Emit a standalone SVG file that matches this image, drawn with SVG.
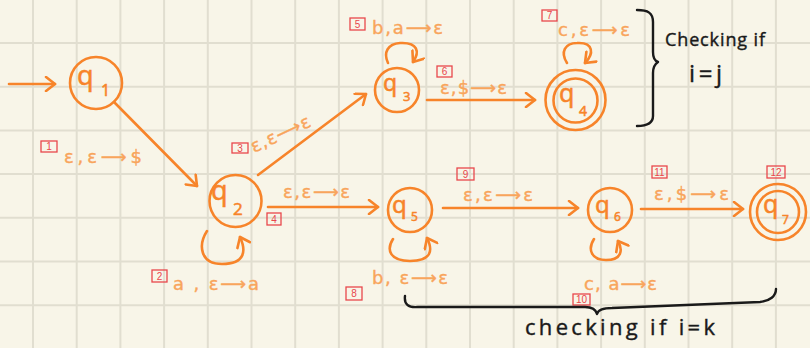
<svg xmlns="http://www.w3.org/2000/svg" width="810" height="348" viewBox="0 0 810 348">
  <defs>
    <style>
      .grid { stroke: #e1ded0; stroke-width: 2; fill: none; }
      .state { fill: none; stroke: #f7842a; stroke-width: 2.6; }
      .edge { fill: none; stroke: #f7842a; stroke-width: 2.6; stroke-linecap: round; }
      .qname { font-family: "Noto Sans", "DejaVu Sans", sans-serif; fill: #f7842a; stroke: #f7842a; stroke-width: 0.5; }
      .lbl { font-family: "DejaVu Sans", "Noto Sans", sans-serif; font-size: 18px; fill: #f8a55c; stroke: #f8a55c; stroke-width: 0.4; }
      .tag rect { fill: none; stroke: #e8474c; stroke-width: 1.3; }
      .tag text { font-family: "Liberation Sans", sans-serif; font-size: 10px; fill: #e8474c; text-anchor: middle; }
      .brace { fill: none; stroke: #1a1a1a; stroke-width: 2.4; stroke-linecap: round; stroke-linejoin: round; }
      .note { font-family: "Open Sans", "Noto Sans", sans-serif; fill: #1a1a1a; stroke: #1a1a1a; stroke-width: 0.4; }
    </style>
    <marker id="head" viewBox="-12 -8 14 16" markerWidth="14" markerHeight="16" refX="0" refY="0" orient="auto" markerUnits="userSpaceOnUse">
      <path d="M-9,-7 L0,0 L-9,7" fill="none" stroke="#f7842a" stroke-width="2.6" stroke-linecap="round" stroke-linejoin="round"/>
    </marker>
  </defs>

  <!-- paper -->
  <rect width="810" height="348" fill="#f8f5e8"/>
  <path class="grid" d="M33,0V348 M76.7,0V348 M120.4,0V348 M164.1,0V348 M207.8,0V348 M251.5,0V348 M295.2,0V348 M338.9,0V348 M382.6,0V348 M426.3,0V348 M470,0V348 M513.7,0V348 M557.4,0V348 M601.1,0V348 M644.8,0V348 M688.5,0V348 M732.2,0V348 M775.9,0V348 M0,43H810 M0,86.7H810 M0,130.4H810 M0,174.1H810 M0,217.8H810 M0,261.5H810 M0,305.2H810"/>

  <!-- transitions -->
  <g id="connectors">
    <path class="edge" d="M9,84 L55,84" marker-end="url(#head)"/>
    <path class="edge" d="M114,102 L197,186" marker-end="url(#head)"/>
    <path class="edge" d="M258,175 L366,94" marker-end="url(#head)"/>
    <path class="edge" d="M268,207 L378,207" marker-end="url(#head)"/>
    <path class="edge" d="M427,100 L535,100" marker-end="url(#head)"/>
    <path class="edge" d="M443,208 L578,208" marker-end="url(#head)"/>
    <path class="edge" d="M641,209 L743,209" marker-end="url(#head)"/>
    <!-- self loops -->
    <path class="edge" d="M207,231 C198,245 200,264 222,264 C246,264 246,250 240,237" marker-end="url(#head)"/>
    <path class="edge" d="M388,63 C383,52 388,44 400,43 C418,42 420,52 413,62" marker-end="url(#head)"/>
    <path class="edge" d="M567,63 C560,52 565,43 577,43 C594,42 594,54 585,63" marker-end="url(#head)"/>
    <path class="edge" d="M393,239 C386,250 390,261 410,261 C432,261 433,250 427,238" marker-end="url(#head)"/>
    <path class="edge" d="M594,239 C587,250 592,260 606,260 C622,260 623,250 618,241" marker-end="url(#head)"/>
  </g>

  <!-- transition labels -->
  <g id="labels">
    <g class="tag"><rect x="41" y="141" width="16" height="11"/><text x="49" y="150">1</text></g>
    <text class="lbl" x="64" y="163" textLength="78">ε,ε⟶$</text>

    <g class="tag"><rect x="152" y="270" width="15" height="12"/><text x="159.5" y="279.5">2</text></g>
    <text class="lbl" x="173" y="290" textLength="86">a , ε⟶a</text>

    <g class="tag"><rect x="232" y="143" width="16" height="10"/><text x="240" y="151.5">3</text></g>
    <text class="lbl" x="254" y="153" textLength="64" transform="rotate(-25 254 153)">ε,ε⟶ε</text>

    <g class="tag"><rect x="267" y="213" width="14" height="12"/><text x="274" y="222.5">4</text></g>
    <text class="lbl" x="283" y="198" textLength="67">ε,ε⟶ε</text>

    <g class="tag"><rect x="350" y="18" width="15" height="12"/><text x="357.5" y="27.5">5</text></g>
    <text class="lbl" x="372" y="34" textLength="71">b,a⟶ε</text>

    <g class="tag"><rect x="437" y="66" width="15" height="11"/><text x="444.5" y="75">6</text></g>
    <text class="lbl" x="440" y="94" textLength="67">ε,$⟶ε</text>

    <g class="tag"><rect x="542" y="10" width="15" height="11"/><text x="549.5" y="19">7</text></g>
    <text class="lbl" x="558" y="36" textLength="72">c,ε⟶ε</text>

    <g class="tag"><rect x="346" y="287" width="16" height="13"/><text x="354" y="297">8</text></g>
    <text class="lbl" x="372" y="284" textLength="76">b, ε⟶ε</text>

    <g class="tag"><rect x="457" y="168" width="17" height="12"/><text x="465.5" y="177.5">9</text></g>
    <text class="lbl" x="463" y="201" textLength="70">ε,ε⟶ε</text>

    <g class="tag"><rect x="573" y="294" width="17" height="11"/><text x="581.5" y="303">10</text></g>
    <text class="lbl" x="584" y="290" textLength="73">c, a⟶ε</text>

    <g class="tag"><rect x="652" y="166" width="15" height="12"/><text x="659.5" y="175.5">11</text></g>
    <text class="lbl" x="654" y="200" textLength="75">ε,$⟶ε</text>

    <g class="tag"><rect x="767" y="166" width="18" height="12"/><text x="776" y="175.5">12</text></g>
  </g>

  <!-- states -->
  <g id="q1">
    <circle class="state" cx="96" cy="83" r="26"/>
    <text class="qname" x="77" y="85" font-size="27">q</text>
    <text class="qname" x="101" y="96" font-size="16">1</text>
  </g>
  <g id="q2">
    <circle class="state" cx="235.5" cy="201" r="26"/>
    <text class="qname" x="211" y="200" font-size="27">q</text>
    <text class="qname" x="233" y="215" font-size="17">2</text>
  </g>
  <g id="q3">
    <circle class="state" cx="397" cy="90" r="22"/>
    <text class="qname" x="383" y="91" font-size="23">q</text>
    <text class="qname" x="403" y="101" font-size="13">3</text>
  </g>
  <g id="q4">
    <circle class="state" cx="575.5" cy="100" r="30"/>
    <circle class="state" cx="575.5" cy="100.5" r="22"/>
    <text class="qname" x="559" y="102" font-size="25">q</text>
    <text class="qname" x="579" y="116" font-size="14">4</text>
  </g>
  <g id="q5">
    <circle class="state" cx="410" cy="210" r="22"/>
    <text class="qname" x="392" y="213" font-size="24">q</text>
    <text class="qname" x="411" y="221" font-size="12">5</text>
  </g>
  <g id="q6">
    <circle class="state" cx="610" cy="210" r="22"/>
    <text class="qname" x="595" y="213" font-size="24">q</text>
    <text class="qname" x="614" y="221" font-size="12">6</text>
  </g>
  <g id="q7">
    <circle class="state" cx="778" cy="212" r="28"/>
    <circle class="state" cx="778" cy="212" r="21"/>
    <text class="qname" x="763" y="213" font-size="25">q</text>
    <text class="qname" x="782" y="224" font-size="12">7</text>
  </g>

  <!-- annotations -->
  <g id="note-ij">
    <path class="brace" d="M637,10 C648,10 653,13 653,22 L653,52 C653,58 655,61 658,62 C655,64 653,67 653,73 L653,116 C653,123 648,126 637,126"/>
    <text class="note" x="665" y="46" font-size="18" textLength="100">Checking if</text>
    <text class="note" x="689" y="82" font-size="24" textLength="33">i=j</text>
  </g>
  <g id="note-ik">
    <path class="brace" d="M405,296 C404,304 408,308 418,307 L585,307 C592,307 596,310 597,314 C598,310 602,308 612,308 L760,302 C770,301 776,296 776,289"/>
    <text class="note" x="525" y="335" font-size="22" textLength="190">checking if  i=k</text>
  </g>
</svg>
